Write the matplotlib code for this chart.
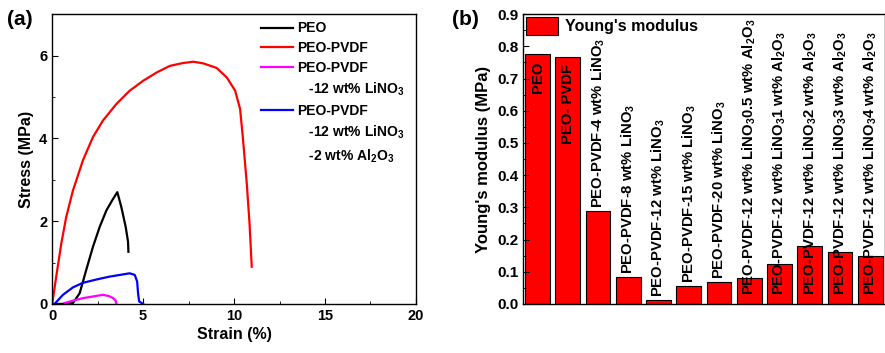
import matplotlib
matplotlib.use('Agg')
import matplotlib.pyplot as plt
import matplotlib.ticker as mticker
from matplotlib.lines import Line2D
import numpy as np

plt.rcParams.update({
    "font.family": "Liberation Sans",
    "font.weight": "bold",
    "axes.labelweight": "bold",
    "axes.linewidth": 1.0,
    "mathtext.fontset": "custom",
    "mathtext.rm": "Liberation Sans:bold",
    "mathtext.bf": "Liberation Sans:bold",
    "mathtext.default": "bf",
    "xtick.direction": "in",
    "ytick.direction": "in",
})

# stress-strain curves (strain %, stress MPa)
peo_strain = [0.0, 0.5, 1.14, 1.51, 1.87, 2.24, 2.61, 2.98, 3.35, 3.58, 3.80, 4.04, 4.17, 4.19]
peo_stress = [0.0, 0.0, 0.02, 0.26, 0.82, 1.38, 1.86, 2.26, 2.54, 2.70, 2.34, 1.86, 1.50, 1.26]

pvdf_strain = [0.0, 0.22, 0.50, 0.77, 1.14, 1.69, 2.24, 2.79, 3.53, 4.26, 5.00, 5.74, 6.47,
               7.21, 7.76, 8.31, 9.04, 9.60, 10.06, 10.33, 10.48, 10.70, 10.85, 10.97]
pvdf_stress = [0.0, 0.66, 1.46, 2.10, 2.74, 3.47, 4.03, 4.43, 4.83, 5.15, 5.39, 5.59, 5.75,
               5.82, 5.85, 5.81, 5.70, 5.47, 5.15, 4.71, 4.03, 2.90, 1.94, 0.90]

lino3_strain = [0.68, 1.14, 1.69, 2.24, 2.79, 3.12, 3.35, 3.49, 3.53]
lino3_stress = [0.02, 0.08, 0.14, 0.18, 0.22, 0.19, 0.14, 0.08, 0.0]

al2o3_strain = [0.13, 0.59, 1.14, 1.69, 2.43, 3.16, 3.71, 4.26, 4.54, 4.67, 4.72, 4.78, 5.00]
al2o3_stress = [0.0, 0.22, 0.40, 0.51, 0.59, 0.66, 0.70, 0.74, 0.70, 0.54, 0.26, 0.06, 0.0]

# Young's modulus per membrane
sample_labels = [
    "PEO",
    "PEO- PVDF",
    "PEO-PVDF-4 wt% LiNO$_3$",
    "PEO-PVDF-8 wt% LiNO$_3$",
    "PEO-PVDF-12 wt% LiNO$_3$",
    "PEO-PVDF-15 wt% LiNO$_3$",
    "PEO-PVDF-20 wt% LiNO$_3$",
    "PEO-PVDF-12 wt% LiNO$_3$0.5 wt% Al$_2$O$_3$",
    "PEO-PVDF-12 wt% LiNO$_3$1 wt% Al$_2$O$_3$",
    "PEO-PVDF-12 wt% LiNO$_3$2 wt% Al$_2$O$_3$",
    "PEO-PVDF-12 wt% LiNO$_3$3 wt% Al$_2$O$_3$",
    "PEO-PVDF-12 wt% LiNO$_3$4 wt% Al$_2$O$_3$",
]
modulus = [0.776, 0.766, 0.289, 0.085, 0.013, 0.056, 0.069, 0.079, 0.124, 0.179, 0.160, 0.148]

fig = plt.figure(figsize=(8.85, 3.53), dpi=100)

# ---- (a) stress-strain ----
ax1 = fig.add_axes([0.059, 0.139, 0.411, 0.821])
ax1.plot(peo_strain, peo_stress, color="black", lw=1.6)
ax1.plot(pvdf_strain, pvdf_stress, color="#ff0000", lw=1.6)
ax1.plot(lino3_strain, lino3_stress, color="#ff00ff", lw=1.6)
ax1.plot(al2o3_strain, al2o3_stress, color="#0000ff", lw=1.6)
ax1.set_xlim(0, 20)
ax1.set_ylim(0, 7)
ax1.xaxis.set_major_locator(mticker.MultipleLocator(5))
ax1.xaxis.set_minor_locator(mticker.MultipleLocator(2.5))
ax1.yaxis.set_major_locator(mticker.MultipleLocator(2))
ax1.yaxis.set_minor_locator(mticker.MultipleLocator(1))
ax1.tick_params(which="major", length=4, labelsize=10.5)
ax1.tick_params(which="minor", length=2.5)
ax1.set_xlabel("Strain (%)", fontsize=11.5, labelpad=3)
ax1.set_ylabel("Stress (MPa)", fontsize=11.5, labelpad=4)

blank = Line2D([], [], color="none")
handles = [Line2D([], [], color="black", lw=1.6),
           Line2D([], [], color="#ff0000", lw=1.6),
           Line2D([], [], color="#ff00ff", lw=1.6),
           blank,
           Line2D([], [], color="#0000ff", lw=1.6),
           blank, blank]
labels = ["PEO", "PEO-PVDF", "PEO-PVDF", "   -12 wt% LiNO$_3$",
          "PEO-PVDF", "   -12 wt% LiNO$_3$", "   -2 wt% Al$_2$O$_3$"]
ax1.legend(handles, labels, loc="upper left", bbox_to_anchor=(0.575, 0.975),
           frameon=False, fontsize=10, borderpad=0, borderaxespad=0,
           handlelength=2.3, handletextpad=0.25, labelspacing=0.42)

fig.text(0.008, 0.945, "(a)", fontsize=15, fontweight="bold", va="center")

# ---- (b) Young's modulus ----
ax2 = fig.add_axes([0.591, 0.139, 0.4095, 0.821])
x = np.arange(1, len(modulus) + 1)
ax2.bar(x, modulus, width=0.82, color="#ff0000", edgecolor="black", linewidth=0.8,
        label="Young's modulus")
ax2.set_xlim(0.52, 12.5)
ax2.set_ylim(0, 0.9)
ax2.set_xticks([])
ax2.yaxis.set_major_locator(mticker.MultipleLocator(0.1))
ax2.yaxis.set_minor_locator(mticker.MultipleLocator(0.05))
ax2.yaxis.set_major_formatter(mticker.FormatStrFormatter("%.1f"))
ax2.tick_params(which="major", length=4, labelsize=11)
ax2.tick_params(which="minor", length=2.5)
ax2.set_ylabel("Young's modulus (MPa)", fontsize=12, labelpad=4)

for i, (xi, v, lab) in enumerate(zip(x, modulus, sample_labels)):
    if i < 2:
        ax2.text(xi, v - 0.022, lab, rotation=90, ha="center", va="top", fontsize=10.7)
    elif i < 7:
        ax2.text(xi, v + 0.008, lab, rotation=90, ha="center", va="bottom", fontsize=10.7)
    else:
        ax2.text(xi, 0.028, lab, rotation=90, ha="center", va="bottom", fontsize=10.7)

ax2.legend(loc="upper left", bbox_to_anchor=(0.005, 0.995), frameon=False, fontsize=11.5,
           borderpad=0.1, borderaxespad=0, handlelength=2.0, handleheight=1.3,
           handletextpad=0.4)

fig.text(0.511, 0.945, "(b)", fontsize=15, fontweight="bold", va="center")

fig.savefig("out.png", dpi=100)
